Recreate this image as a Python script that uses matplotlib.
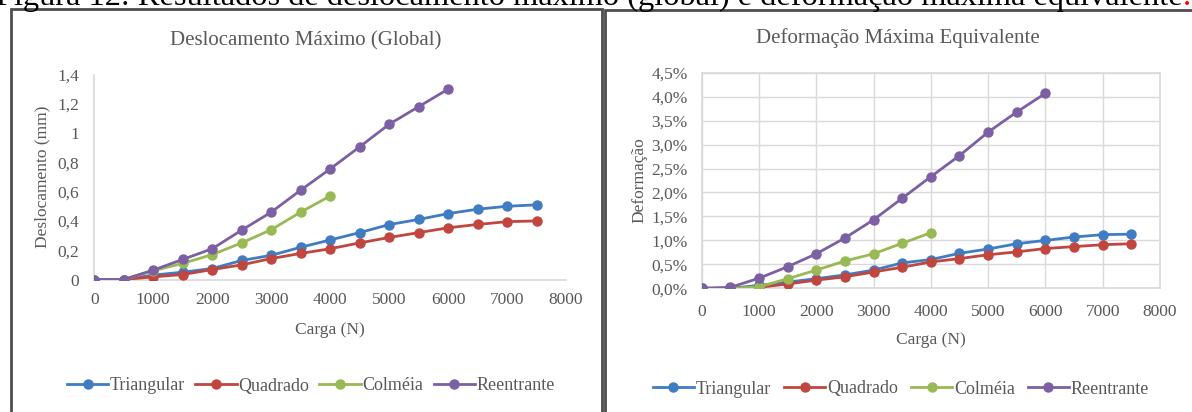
import matplotlib
matplotlib.use("Agg")
import matplotlib.pyplot as plt
from matplotlib.patches import Rectangle
from matplotlib.ticker import FuncFormatter

W, H = 1192, 412

carga = [0, 500, 1000, 1500, 2000, 2500, 3000, 3500, 4000, 4500, 5000, 5500, 6000, 6500, 7000, 7500]
series_names = ["Triangular", "Quadrado", "Colméia", "Reentrante"]
series_colors = ["#3f7cc2", "#c0463f", "#98b954", "#7d5fa3"]

# deslocamento maximo (mm)
desl_triangular = [0, 0, 0.03, 0.05, 0.075, 0.13, 0.165, 0.22, 0.27, 0.32, 0.375, 0.41, 0.45, 0.48, 0.50, 0.51]
desl_quadrado = [0, 0, 0.018, 0.034, 0.068, 0.10, 0.143, 0.178, 0.21, 0.25, 0.287, 0.32, 0.353, 0.376, 0.395, 0.40]
desl_colmeia = [0, 0, 0.06, 0.11, 0.17, 0.25, 0.34, 0.46, 0.57]
desl_reentrante = [0, 0, 0.064, 0.137, 0.21, 0.337, 0.46, 0.61, 0.755, 0.906, 1.06, 1.18, 1.30]

# deformacao maxima equivalente (%)
def_triangular = [0, 0, 0.06, 0.13, 0.20, 0.28, 0.38, 0.53, 0.60, 0.73, 0.82, 0.93, 1.00, 1.07, 1.12, 1.13]
def_quadrado = [0, 0, 0.02, 0.09, 0.17, 0.24, 0.34, 0.44, 0.55, 0.62, 0.70, 0.76, 0.83, 0.87, 0.91, 0.93]
def_colmeia = [0, 0, 0.03, 0.20, 0.38, 0.57, 0.72, 0.94, 1.16]
def_reentrante = [0, 0.02, 0.21, 0.45, 0.72, 1.05, 1.43, 1.88, 2.33, 2.77, 3.26, 3.68, 4.07]

x_ticks = [0, 1000, 2000, 3000, 4000, 5000, 6000, 7000, 8000]
desl_ticks = [0, 0.2, 0.4, 0.6, 0.8, 1.0, 1.2, 1.4]
def_ticks = [0, 0.5, 1.0, 1.5, 2.0, 2.5, 3.0, 3.5, 4.0, 4.5]

caption = "Figura 12: Resultados de deslocamento máximo (global) e deformação máxima equivalente"

plt.rcParams["font.family"] = ["Liberation Serif", "DejaVu Serif"]
TXT = "#595959"
LINE = "#d9d9d9"


def px(x0, y0, x1, y1):
    # pixel box (top-left origin) -> figure fraction rect
    return [x0 / W, 1 - y1 / H, (x1 - x0) / W, (y1 - y0) / H]


def draw_series(ax, ys_list):
    for name, color, ys in zip(series_names, series_colors, ys_list):
        ax.plot(carga[:len(ys)], ys, "-o", color=color, lw=2.0, ms=6.5,
                label=name, zorder=3)


def style_axes(ax, ypad, xpad):
    ax.set_xlim(0, 8000)
    ax.set_xticks(x_ticks)
    ax.tick_params(length=0, labelsize=12.5, labelcolor=TXT)
    ax.tick_params(axis="y", pad=ypad)
    ax.tick_params(axis="x", pad=xpad)
    for s in ax.spines.values():
        s.set_color(LINE)
        s.set_linewidth(1.2)


def add_legend(ax, cx, cy, colspace):
    ax.legend(loc="center", bbox_to_anchor=(cx / W, 1 - cy / H), bbox_transform=fig.transFigure,
              ncol=4, frameon=False, fontsize=13, labelcolor=TXT, handlelength=2.3,
              handletextpad=0.1, columnspacing=colspace)


fig = plt.figure(figsize=(W / 100, H / 100), dpi=100)

# panel frames
fig.patches.append(Rectangle((11 / W, -0.01), 591 / W, 1 - 9 / H + 0.01, transform=fig.transFigure,
                             fill=False, ec="#4d4d4d", lw=2.0))
fig.patches.append(Rectangle((605 / W, -0.01), 590 / W, 1 - 10 / H + 0.01, transform=fig.transFigure,
                             fill=False, ec="#4d4d4d", lw=2.0))

# caption line of the page, cut off at the top like the scan
cap = fig.text(-4 / W, 1 - 5 / H, caption, fontsize=23.3, va="baseline", ha="left", color="black")

# left: deslocamento
ax1 = fig.add_axes(px(94.3, 74.5, 566, 279.5))
draw_series(ax1, [desl_triangular, desl_quadrado, desl_colmeia, desl_reentrante])
style_axes(ax1, ypad=11, xpad=9)
ax1.set_ylim(0, 1.4)
ax1.set_yticks(desl_ticks)
ax1.yaxis.set_major_formatter(FuncFormatter(lambda v, p: f"{v:g}".replace(".", ",")))
ax1.spines["top"].set_visible(False)
ax1.spines["right"].set_visible(False)
ax1.set_xlabel("Carga (N)", fontsize=12.5, color=TXT, labelpad=10)
ax1.set_ylabel("Deslocamento (mm)", fontsize=12.5, color=TXT, labelpad=5)
add_legend(ax1, 311, 386, 0.55)
fig.text(306 / W, 1 - 41 / H, "Deslocamento Máximo (Global)", fontsize=15, color=TXT,
         ha="center", va="center")

# right: deformacao
ax2 = fig.add_axes(px(701.7, 72.7, 1160, 288.3))
draw_series(ax2, [def_triangular, def_quadrado, def_colmeia, def_reentrante])
style_axes(ax2, ypad=10, xpad=11)
ax2.set_ylim(0, 4.5)
ax2.set_yticks(def_ticks)
ax2.yaxis.set_major_formatter(FuncFormatter(lambda v, p: f"{v:.1f}%".replace(".", ",")))
ax2.grid(True, color=LINE, lw=1.0, zorder=0)
ax2.set_axisbelow(True)
ax2.set_xlabel("Carga (N)", fontsize=12.5, color=TXT, labelpad=9)
ax2.set_ylabel("Deformação", fontsize=12.5, color=TXT, labelpad=3)
add_legend(ax2, 901, 389, 0.7)
fig.text(898 / W, 1 - 38 / H, "Deformação Máxima Equivalente", fontsize=15, color=TXT,
         ha="center", va="center")

# red full stop after the caption
ax2.annotate(".", xy=(1, 0), xycoords=cap, fontsize=23.3, color="red",
             va="bottom", ha="left", annotation_clip=False)

fig.savefig("out.png", dpi=100)
